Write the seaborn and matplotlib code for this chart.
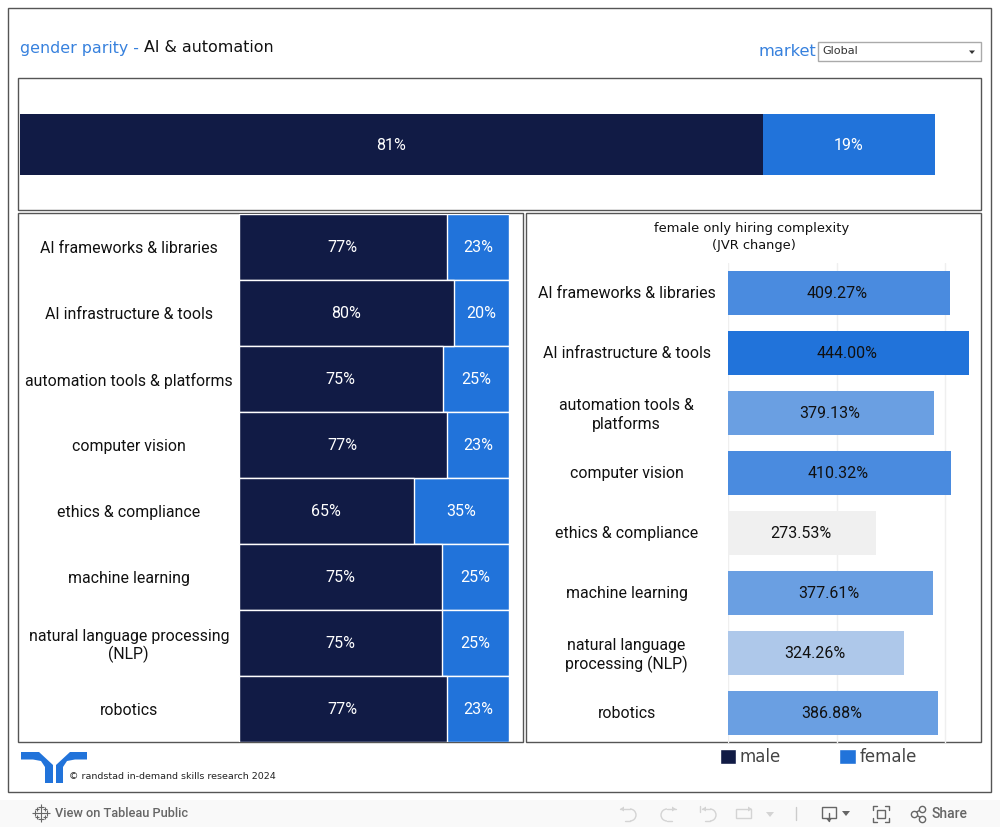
import numpy as np
import pandas as pd
import matplotlib
matplotlib.use('Agg')
import matplotlib.pyplot as plt
import seaborn as sns
from matplotlib.patches import Rectangle, Polygon, Patch, Arc
from matplotlib.transforms import ScaledTranslation

# values
overall_gender = ['male', 'female']
overall_share = [0.812, 0.188]
overall_labels = ['81%', '19%']

skills_left = ['AI frameworks & libraries', 'AI infrastructure & tools',
               'automation tools & platforms', 'computer vision',
               'ethics & compliance', 'machine learning',
               'natural language processing\n(NLP)', 'robotics']
male_share = [0.77, 0.797, 0.755, 0.77, 0.65, 0.752, 0.752, 0.77]
male_labels = ['77%', '80%', '75%', '77%', '65%', '75%', '75%', '77%']
female_labels = ['23%', '20%', '25%', '23%', '35%', '25%', '25%', '23%']

skills_right = ['AI frameworks & libraries', 'AI infrastructure & tools',
                'automation tools &\nplatforms', 'computer vision',
                'ethics & compliance', 'machine learning',
                'natural language\nprocessing (NLP)', 'robotics']
jvr_change = [409.27, 444.00, 379.13, 410.32, 273.53, 377.61, 324.26, 386.88]

NAVY = '#111b45'
BLUE = '#2173da'
EDGE = '#555555'
ICON = '#666666'
FAINT = '#d4d4d4'
jvr_steps = [300, 350, 400, 430]
jvr_colours = ['#f0f0f0', '#aec8ea', '#6a9fe2', '#4a8bdf', '#2173da']

W, H = 1000, 827

sns.set_theme(style='white')
plt.rcParams['font.family'] = ['DejaVu Sans']

fig = plt.figure(figsize=(10, 8.27), dpi=100)


def px_axes(x0, y0, x1, y1, **kw):
    return fig.add_axes([x0 / W, 1 - y1 / H, (x1 - x0) / W, (y1 - y0) / H], **kw)


# page furniture in pixel coordinates
bg = px_axes(0, 0, W, H)
bg.set_xlim(0, W)
bg.set_ylim(H, 0)
bg.axis('off')
bg.add_patch(Rectangle((0, 800), W, 27, fc='#f9f9f9', ec='none'))
for x0, y0, x1, y1 in [(8, 8, 991, 791.5), (18, 78, 981, 210),
                       (18, 213, 523, 742), (526, 213, 981, 742)]:
    bg.add_patch(Rectangle((x0, y0), x1 - x0, y1 - y0, fc='none', ec=EDGE, lw=1))

bg.text(20, 48, 'gender parity -', color=BLUE, fontsize=11.45, va='center', alpha=0.9)
bg.text(144, 48, 'AI & automation', color='#111111', fontsize=11.45, va='center')
bg.text(816, 51, 'market', color=BLUE, fontsize=11.7, va='center', ha='right', alpha=0.9)
bg.add_patch(Rectangle((818, 42), 163, 19, fc='white', ec='#aaaaaa', lw=1))
bg.text(822, 51.5, 'Global', color='#333333', fontsize=8.1, va='center')
bg.add_patch(Polygon([(969, 50.5), (975, 50.5), (972, 54)], fc='#333333', ec='none'))
bg.text(752, 228.5, 'female only hiring complexity', color='#111111', fontsize=9.35, va='center', ha='center')
bg.text(754, 245.5, '(JVR change)', color='#111111', fontsize=9.35, va='center', ha='center')

# logo
bg.add_patch(Polygon([(21, 752), (39, 752), (53, 765), (53, 783), (45, 783), (45, 767), (41, 761), (33, 759.5), (21, 759.5)],
                     fc=BLUE, ec='none'))
bg.add_patch(Polygon([(87, 752), (70, 752), (56, 765), (56, 783), (63, 783), (63, 767), (67, 761), (75, 759.5), (87, 759.5)],
                     fc=BLUE, ec='none'))
bg.text(69, 776.5, '© randstad in-demand skills research 2024', color='#222222', fontsize=6.8, va='center')

# toolbar
bg.text(55, 813.5, 'View on Tableau Public', color=ICON, fontsize=9.2, family='Roboto', va='center', weight='medium')
bg.text(932, 813.5, 'Share', color=ICON, fontsize=10, family='Roboto', va='center', weight='medium')
for dx, dy, s in [(41, 813, 7), (35, 813, 4), (47, 813, 4), (41, 807, 4), (41, 819, 4),
                  (37, 809, 3), (45, 809, 3), (37, 817, 3), (45, 817, 3)]:
    bg.plot(dx, dy, '+', color=ICON, ms=s, mew=0.8)
# undo / redo / revert / refresh
bg.plot([620, 630], [809, 809], color=FAINT, lw=1)
bg.plot([625, 630], [821, 821], color=FAINT, lw=1)
bg.add_patch(Arc((630, 815), 12, 12, theta1=-90, theta2=90, ec=FAINT, lw=1))
bg.add_patch(Polygon([(620, 809), (624, 806.5), (624, 811.5)], fc=FAINT, ec='none'))
bg.plot([676, 667], [809, 809], color=FAINT, lw=1)
bg.plot([672, 667], [821, 821], color=FAINT, lw=1)
bg.add_patch(Arc((667, 815), 12, 12, theta1=90, theta2=270, ec=FAINT, lw=1))
bg.add_patch(Polygon([(676, 809), (672, 806.5), (672, 811.5)], fc=FAINT, ec='none'))
bg.plot([700, 700], [806, 812], color=FAINT, lw=1)
bg.plot([702, 710], [809, 809], color=FAINT, lw=1)
bg.plot([705, 710], [821, 821], color=FAINT, lw=1)
bg.add_patch(Arc((710, 815), 12, 12, theta1=-90, theta2=90, ec=FAINT, lw=1))
bg.add_patch(Polygon([(702, 809), (706, 806.5), (706, 811.5)], fc=FAINT, ec='none'))
bg.add_patch(Rectangle((736, 809), 15, 9, fc='none', ec=FAINT, lw=1))
bg.add_patch(Polygon([(752, 809), (748, 806.5), (748, 811.5)], fc=FAINT, ec='none'))
bg.add_patch(Polygon([(766, 812), (774, 812), (770, 817)], fc=FAINT, ec='none'))
bg.plot([795.5, 795.5], [807, 820], color='#cccccc', lw=1)
bg.add_patch(Rectangle((822, 807), 14, 11, fc='none', ec=ICON, lw=1))
bg.plot([829, 829], [813, 821], color=ICON, lw=1)
bg.add_patch(Polygon([(826.5, 819), (831.5, 819), (829, 822)], fc=ICON, ec='none'))
bg.add_patch(Polygon([(842, 811), (850, 811), (846, 816)], fc=ICON, ec='none'))
for cx, sx in [(873, 1), (889, -1)]:
    for cy, sy in [(806, 1), (822, -1)]:
        bg.plot([cx + 4 * sx, cx, cx], [cy, cy, cy + 4 * sy], color=ICON, lw=1)
bg.add_patch(Rectangle((877, 809.5), 8, 8, fc='none', ec=ICON, lw=1))
bg.plot([914, 922], [813.5, 809], color=ICON, lw=1)
bg.plot([914, 922], [813.5, 818.5], color=ICON, lw=1)
bg.plot([914, 922, 922], [813.5, 808.5, 818.5], 'o', mfc='#f9f9f9', mec=ICON, ms=4.5, mew=1)

# overall bar
top = px_axes(20, 114, 978, 175)
sns.barplot(x=[sum(overall_share)], y=['all'], color=BLUE, width=1, saturation=1, linewidth=0, ax=top)
sns.barplot(x=[overall_share[0]], y=['all'], color=NAVY, width=1, saturation=1, linewidth=0, ax=top)
top.set_xlim(0, 958 / 915)
top.axis('off')
top.text(overall_share[0] / 2 - 0.001, 0.016, overall_labels[0], color='white', family='Roboto', fontsize=11.5, ha='center', va='center')
top.text(overall_share[0] + overall_share[1] / 2, 0.016, overall_labels[1], color='white', family='Roboto', fontsize=11.5, ha='center', va='center')

# split by skill
left_df = pd.DataFrame({'skill': skills_left, 'male': male_share})
left_df['total'] = 1.0
ax = px_axes(238.5, 213.5, 509, 741.5)
sns.barplot(data=left_df, x='total', y='skill', color=BLUE, width=1, saturation=1, edgecolor='white', linewidth=1, ax=ax)
sns.barplot(data=left_df, x='male', y='skill', color=NAVY, width=1, saturation=1, edgecolor='white', linewidth=1, ax=ax)
ax.set_xlim(0, 1)
ax.set_xlabel('')
ax.set_ylabel('')
ax.set_xticks([])
sns.despine(ax=ax, left=True, bottom=True)
ax.tick_params(axis='y', length=0, pad=79)
for lab in ax.get_yticklabels():
    lab.set_ha('center')
    lab.set_family('Roboto')
    lab.set_fontsize(11.45)
    lab.set_color('#111111')
    lab.set_linespacing(1.15)
    lab.set_transform(lab.get_transform() + ScaledTranslation(0, -0.5 / 72, fig.dpi_scale_trans))
for i, m in enumerate(male_share):
    ax.text(m / 2, i + 0.012, male_labels[i], color='white', family='Roboto', fontsize=11.5, ha='center', va='center')
    ax.text(m + (1 - m) / 2, i + 0.012, female_labels[i], color='white', family='Roboto', fontsize=11.5, ha='center', va='center')

# hiring complexity
right_df = pd.DataFrame({'skill': skills_right, 'jvr': jvr_change})
right_df['step'] = np.digitize(right_df['jvr'], jvr_steps)
ax2 = px_axes(728, 263, 981, 743)
ax2.patch.set_alpha(0)
sns.barplot(data=right_df, x='jvr', y='skill', hue='step', palette=dict(enumerate(jvr_colours)),
            dodge=False, legend=False, width=0.733, saturation=1, linewidth=0, ax=ax2)
ax2.set_xlim(0, 253 / 0.5425)
ax2.set_xticks([0, 200, 400])
ax2.set_xlabel('')
ax2.set_ylabel('')
ax2.grid(axis='x', color='#efefef', lw=1)
ax2.set_axisbelow(True)
ax2.tick_params(axis='x', length=0, labelbottom=False)
sns.despine(ax=ax2, left=True, bottom=True)
ax2.tick_params(axis='y', length=0, pad=73)
for lab in ax2.get_yticklabels():
    lab.set_ha('center')
    lab.set_family('Roboto')
    lab.set_fontsize(11.45)
    lab.set_color('#111111')
    lab.set_linespacing(1.2)
    lab.set_transform(lab.get_transform() + ScaledTranslation(0, 0.7 / 72, fig.dpi_scale_trans))
for i, v in enumerate(jvr_change):
    ax2.annotate(f'{v:.2f}%', (v / 2, i), xytext=(-1.1, -0.3), textcoords='offset points', color='#111111',
                 family='Roboto', fontsize=11.5, ha='center', va='center')

# legend
fig.legend(handles=[Patch(fc=NAVY, label='male'), Patch(fc=BLUE, label='female')], ncol=2, frameon=False,
           loc='center left', bbox_to_anchor=(708 / W, 1 - 757.5 / H), handlelength=1, handleheight=1,
           handletextpad=0.2, columnspacing=3.5, fontsize=12, labelcolor='#444444', borderpad=0.2)

fig.savefig('out.png', dpi=100)
